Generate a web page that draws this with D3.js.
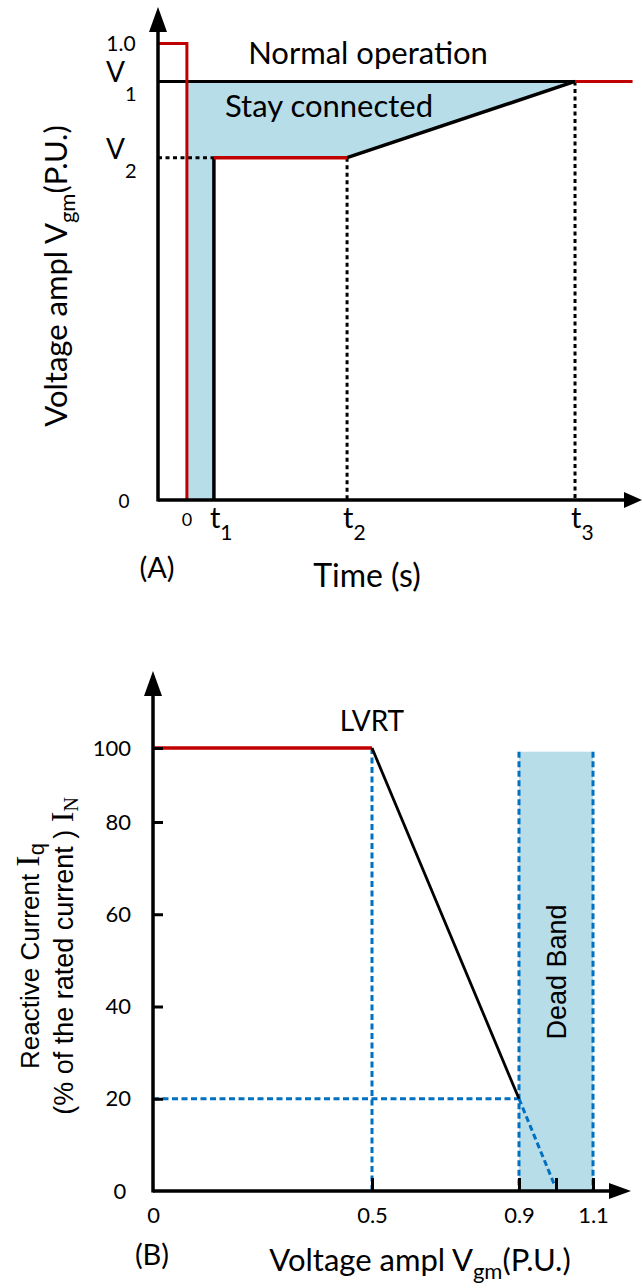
<!DOCTYPE html>
<html><head><meta charset="utf-8">
<script src="https://cdn.jsdelivr.net/npm/d3@7"></script>
<style>body{margin:0;background:#fff}svg{display:block}</style>
</head><body>
<svg id="c" width="643" height="1288"></svg>
<script>
// ---------- Chart A data (time in arbitrary units, voltage in P.U.) ----------
const tAxisMin = -1.07, tAxisMax = 16.85;
const tickTimes = [0, 1, 5.93, 14.37];
const tickTimeLabels = ["0", "t1", "t2", "t3"];
const voltLevels = [1.0, 0.917, 0.75, 0];
const voltLabels = ["1.0", "V1", "V2", "0"];
const vAxisMax = 1.08;
const faultT = [tAxisMin, 0, 0];
const faultV = [1.0, 1.0, 0];
const limitT = [1, 1, 5.93, 14.37];
const limitV = [0, 0.75, 0.75, 0.917];
const recoveryT = [14.37, 16.5];
const recoveryV = [0.917, 0.917];

// ---------- Chart B data ----------
const iqVoltage = [0, 0.5, 0.9];
const iqCurrent = [100, 100, 20];
const extVoltage = [0.9, 0.995];
const extCurrent = [20, 1.5];
const yTicksB = [0, 20, 40, 60, 80, 100];
const xTicksB = [0, 0.5, 0.9, 1.0, 1.1];
const xTickLabelsB = ["0", "0.5", "0.9", "", "1.1"];
const deadBand = [0.9, 1.1];
const deadBandTop = 99;
const bAxisMaxV = 1.2, bAxisMaxI = 121;

const FC = "Lato, 'Open Sans', sans-serif";
const FA = "'Liberation Sans', Arial, sans-serif";
const FS = "'Liberation Serif', 'Times New Roman', serif";
const RED = "#c00000", BLUE = "#0070c0", FILL = "#b7dde8";

const svg = d3.select("#c");
const zip = (a, b) => a.map((v, i) => [v, b[i]]);

// ================= Chart A =================
const xA = d3.scaleLinear().domain([tAxisMin, tAxisMax]).range([158, 642]);
const yA = d3.scaleLinear().domain([0, vAxisMax]).range([500, 7]);
const gA = svg.append("g");
const lineA = d3.line().x(d => xA(d[0])).y(d => yA(d[1]));

// stay-connected area
const areaPts = [[0, voltLevels[1]], [limitT[3], limitV[3]], [limitT[2], limitV[2]], [limitT[1], limitV[1]], [limitT[0], 0], [0, 0]];
gA.append("path").attr("d", lineA(areaPts) + "Z").attr("fill", FILL);

// dashed guides
const dash = (pts) => gA.append("path").attr("d", lineA(pts)).attr("fill", "none")
  .attr("stroke", "#000").attr("stroke-width", 3).attr("stroke-dasharray", "4,3.5");
dash([[tAxisMin, limitV[1]], [limitT[1], limitV[1]]]);
dash([[limitT[2], limitV[2]], [limitT[2], 0]]);
dash([[limitT[3], limitV[3]], [limitT[3], 0]]);

// V1 line
gA.append("path").attr("d", lineA([[tAxisMin, voltLevels[1]], [limitT[3], voltLevels[1]]]))
  .attr("stroke", "#000").attr("stroke-width", 3).attr("fill", "none");
// black limit curve parts
gA.append("path").attr("d", lineA([[limitT[0], limitV[0]], [limitT[1], limitV[1]]]))
  .attr("stroke", "#000").attr("stroke-width", 3.5).attr("fill", "none");
gA.append("path").attr("d", lineA([[limitT[2], limitV[2]], [limitT[3], limitV[3]]]))
  .attr("stroke", "#000").attr("stroke-width", 3.5).attr("fill", "none");
// red parts
gA.append("path").attr("d", lineA(zip(faultT, faultV))).attr("stroke", RED).attr("stroke-width", 3).attr("fill", "none");
gA.append("path").attr("d", lineA([[limitT[1], limitV[1]], [limitT[2], limitV[2]]])).attr("stroke", RED).attr("stroke-width", 3.5).attr("fill", "none");
gA.append("path").attr("d", lineA(zip(recoveryT, recoveryV))).attr("stroke", RED).attr("stroke-width", 3).attr("fill", "none");

// axes
const x0A = xA(tAxisMin), y0A = yA(0);
gA.append("g").attr("transform", `translate(0,${y0A})`)
  .call(d3.axisBottom(xA).tickValues([]).tickSizeOuter(0))
  .call(g => g.select(".domain").attr("stroke-width", 3.5).attr("d", `M${x0A},0H${xA(tAxisMax) - 16}`));
gA.append("g").attr("transform", `translate(${x0A},0)`)
  .call(d3.axisLeft(yA).tickValues([]).tickSizeOuter(0))
  .call(g => g.select(".domain").attr("stroke-width", 3.5).attr("d", `M0,${y0A + 1.5}V${yA(vAxisMax) + 22}`));
gA.append("path").attr("d", `M${x0A},${yA(vAxisMax)}l-9,25h18z`);
gA.append("path").attr("d", `M${xA(tAxisMax)},${y0A}l-18,-8v16z`);

function sub(sel, main, s, size, subSize, dy) {
  sel.append("tspan").text(main).attr("font-size", size);
  sel.append("tspan").text(s).attr("font-size", subSize).attr("dy", dy);
}
tickTimes.forEach((t, i) => {
  const lab = tickTimeLabels[i];
  if (lab === "0") {
    gA.append("text").attr("x", xA(t)).attr("y", 526).attr("text-anchor", "middle")
      .attr("font-family", FC).attr("font-size", 18).text(lab);
  } else {
    const tx = gA.append("text").attr("x", xA(t) - 4).attr("y", 528).attr("font-family", FC);
    sub(tx, lab[0], lab.slice(1), 29, 21, 12);
  }
});
voltLevels.forEach((v, i) => {
  const lab = voltLabels[i];
  if (lab.startsWith("V")) {
    const tx = gA.append("text").attr("x", 106).attr("y", yA(v) + 1).attr("font-family", FC);
    sub(tx, "V", lab.slice(1), 28, 20, 19);
  } else {
    gA.append("text").attr("x", v === 0 ? 124 : 121).attr("y", yA(v) + (v === 0 ? 8 : 7)).attr("text-anchor", "middle")
      .attr("font-family", FC).attr("font-size", v === 0 ? 19 : 21).text(lab);
  }
});

gA.append("text").attr("x", 368).attr("y", 64).attr("text-anchor", "middle").attr("font-family", FC).attr("font-size", 31).text("Normal operation");
gA.append("text").attr("x", 329).attr("y", 117).attr("text-anchor", "middle").attr("font-family", FC).attr("font-size", 31).text("Stay connected");
gA.append("text").attr("x", 157).attr("y", 578).attr("text-anchor", "middle").attr("font-family", FC).attr("font-size", 29).text("(A)");
gA.append("text").attr("x", 367).attr("y", 587).attr("text-anchor", "middle").attr("font-family", FC).attr("font-size", 32).text("Time (s)");
{
  const t = gA.append("text").attr("transform", "translate(67,276) rotate(-90)").attr("text-anchor", "middle").attr("font-family", FC).attr("font-size", 31);
  t.append("tspan").text("Voltage ampl V");
  t.append("tspan").text("gm").attr("font-size", 22).attr("dy", 8);
  t.append("tspan").text("(P.U.)").attr("dy", -8);
}

// ================= Chart B =================
const xB = d3.scaleLinear().domain([0, 0.5, 0.9, 1.1, bAxisMaxV]).range([153, 372, 519, 593, 631]);
const yB = d3.scaleLinear().domain([0, 80, 100, bAxisMaxI]).range([1191, 822, 748, 671]);
const gB = svg.append("g");
const lineB = d3.line().x(d => xB(d[0])).y(d => yB(d[1]));

gB.append("rect").attr("x", xB(deadBand[0])).attr("y", yB(deadBandTop))
  .attr("width", xB(deadBand[1]) - xB(deadBand[0])).attr("height", yB(0) - yB(deadBandTop)).attr("fill", FILL);

const dotB = (pts) => gB.append("path").attr("d", lineB(pts)).attr("fill", "none")
  .attr("stroke", BLUE).attr("stroke-width", 3).attr("stroke-dasharray", "6,3.5");
dotB([[iqVoltage[1], iqCurrent[1]], [iqVoltage[1], 0]]);
dotB([[0, iqCurrent[2]], [iqVoltage[2], iqCurrent[2]]]);
dotB([[deadBand[0], deadBandTop], [deadBand[0], 0]]);
dotB([[deadBand[1], deadBandTop], [deadBand[1], 0]]);
dotB(zip(extVoltage, extCurrent));

gB.append("path").attr("d", lineB(zip(iqVoltage.slice(0, 2), iqCurrent.slice(0, 2)))).attr("stroke", RED).attr("stroke-width", 3.5).attr("fill", "none");
gB.append("path").attr("d", lineB(zip(iqVoltage.slice(1), iqCurrent.slice(1)))).attr("stroke", "#000").attr("stroke-width", 2.8).attr("fill", "none");

const x0B = xB(0), y0B = yB(0);
gB.append("g").attr("transform", `translate(${x0B},0)`)
  .call(d3.axisLeft(yB).tickValues(yTicksB.filter(v => v > 0)).tickSizeInner(-10).tickSizeOuter(0).tickPadding(22))
  .call(g => {
    g.select(".domain").attr("stroke-width", 3.5).attr("d", `M0,${y0B + 1.5}V${yB(bAxisMaxI) + 22}`);
    g.selectAll(".tick line").attr("stroke-width", 3);
    g.selectAll(".tick text").attr("font-family", FC).attr("font-size", 22).attr("fill", "#000");
  });
gB.append("text").attr("x", 120).attr("y", y0B + 8).attr("text-anchor", "middle").attr("font-family", FC).attr("font-size", 22).text(yTicksB[0]);
gB.append("g").attr("transform", `translate(0,${y0B})`)
  .call(d3.axisBottom(xB).tickValues(xTicksB).tickFormat((d, i) => xTickLabelsB[i]).tickSizeInner(-13).tickSizeOuter(0).tickPadding(16))
  .call(g => {
    g.select(".domain").attr("stroke-width", 3.5).attr("d", `M${x0B},0H${xB(bAxisMaxV) - 20}`);
    g.selectAll(".tick line").attr("stroke-width", 3).attr("opacity", (d) => d === 0 ? 0 : 1);
    g.selectAll(".tick text").attr("font-family", FC).attr("font-size", 22).attr("fill", "#000");
  });
gB.append("path").attr("d", `M${x0B},${yB(bAxisMaxI)}l-9,25h18z`);
gB.append("path").attr("d", `M${xB(bAxisMaxV)},${y0B}l-22,-8v16z`);

gB.append("text").attr("x", 372).attr("y", 731).attr("text-anchor", "middle").attr("font-family", FC).attr("font-size", 28).text("LVRT");
gB.append("text").attr("transform", "translate(566,972) rotate(-90)").attr("text-anchor", "middle").attr("font-family", FA).attr("font-size", 27).text("Dead Band");
{
  const t1 = gB.append("text").attr("transform", "translate(39,956) rotate(-90)").attr("text-anchor", "middle").attr("font-family", FA).attr("font-size", 26);
  t1.append("tspan").text("Reactive Current ");
  t1.append("tspan").text("I").attr("font-family", FS).attr("font-size", 34);
  t1.append("tspan").text("q").attr("font-size", 22).attr("dy", 5);
  const t2 = gB.append("text").attr("transform", "translate(73,956) rotate(-90)").attr("text-anchor", "middle").attr("font-family", FA).attr("font-size", 27);
  t2.append("tspan").text("(% of the rated current )  ");
  t2.append("tspan").text("I").attr("font-family", FS).attr("font-size", 32);
  t2.append("tspan").text("N").attr("font-family", FS).attr("font-size", 20).attr("dy", 5);
}
gB.append("text").attr("x", 152).attr("y", 1265).attr("text-anchor", "middle").attr("font-family", FC).attr("font-size", 29).text("(B)");
{
  const t = gB.append("text").attr("x", 420).attr("y", 1271).attr("text-anchor", "middle").attr("font-family", FC).attr("font-size", 31);
  t.append("tspan").text("Voltage ampl V");
  t.append("tspan").text("gm").attr("font-size", 22).attr("dy", 8);
  t.append("tspan").text("(P.U.)").attr("dy", -8);
}
</script>
</body></html>
